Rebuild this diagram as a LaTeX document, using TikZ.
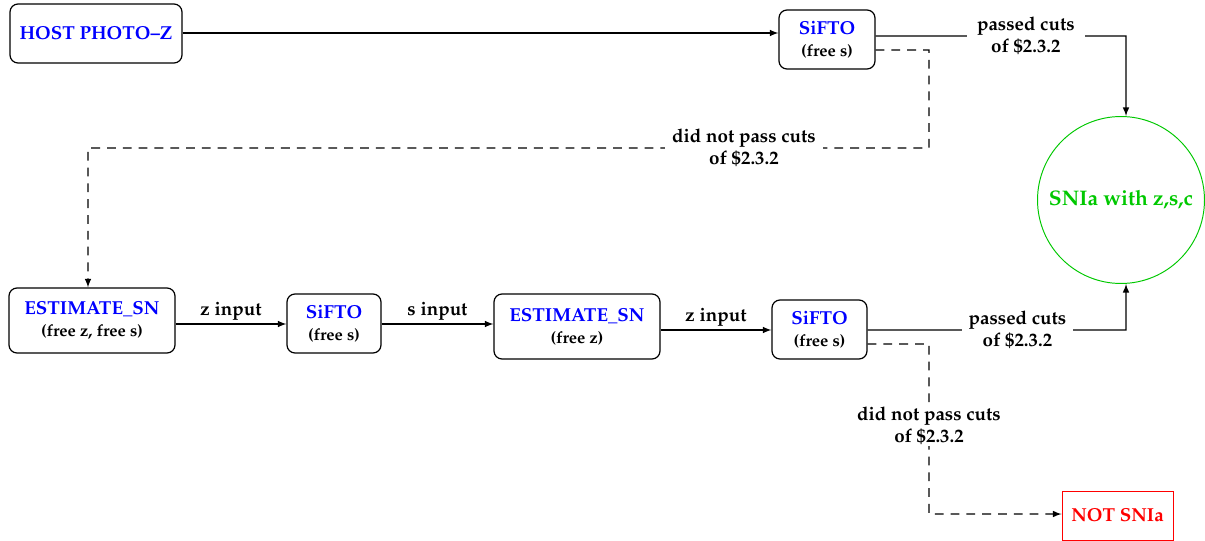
\documentclass[tikz,border=0pt]{standalone}
\usepackage[T1]{fontenc}
\usepackage{mathpazo}
\usepackage{tikz}
\usetikzlibrary{positioning}
\usetikzlibrary{shapes.geometric,arrows}
\definecolor{snblue}{RGB}{0,0,255}
\definecolor{sngreen}{RGB}{0,200,0}
\definecolor{snred}{RGB}{255,0,0}
\newcommand{\bname}[1]{{\fontsize{10.7}{12}\selectfont\bfseries\color{snblue}#1}}
\newcommand{\bnote}[1]{{\fontsize{9.4}{10}\selectfont\bfseries #1}}
\tikzstyle{prog} = [rectangle, rounded corners=0.16cm, draw=black, line width=0.7pt, align=center, inner sep=0pt]
\tikzstyle{lab} = [fill=white, align=center, font=\fontsize{10.7}{12.5}\selectfont\bfseries, inner sep=1pt]
\tikzstyle{arr} = [font=\fontsize{10.7}{12}\selectfont\bfseries, inner sep=2pt]
\tikzstyle{conn} = [line width=0.7pt, ->]
\tikzstyle{nopass} = [dash pattern=on 5pt off 4pt]

\begin{document}
\begin{tikzpicture}[x=0.02cm, y=-0.02cm, >=latex]
    \useasboundingbox (0,0) rectangle (1205,541);
    \node (host) [prog, minimum width=3.44cm, minimum height=1.18cm] at (96,33.5) {\bname{HOST PHOTO--Z}};
    \node (siftoA) [prog, minimum width=1.92cm, minimum height=1.18cm] at (827,39.5) {\bname{SiFTO}\\[0.5pt]\bnote{(free s)}};
    \node (estA) [prog, minimum width=3.32cm, minimum height=1.30cm] at (92,320.5) {\bname{ESTIMATE\_SN}\\[0.5pt]\bnote{(free z, free s)}};
    \node (siftoB) [prog, minimum width=1.88cm, minimum height=1.18cm] at (334,323.5) {\bname{SiFTO}\\[0.5pt]\bnote{(free s)}};
    \node (estB) [prog, minimum width=3.32cm, minimum height=1.30cm] at (577,326.5) {\bname{ESTIMATE\_SN}\\[0.5pt]\bnote{(free z)}};
    \node (siftoC) [prog, minimum width=1.90cm, minimum height=1.18cm] at (819.5,329.5) {\bname{SiFTO}\\[0.5pt]\bnote{(free s)}};
    \node (snia) [circle, draw=sngreen, line width=0.55pt, minimum size=3.34cm, text=sngreen, font=\fontsize{12}{14}\selectfont\bfseries] at (1121,200) {SNIa with z,s,c};
    \node (notsn) [rectangle, draw=snred, line width=0.55pt, minimum width=2.22cm, minimum height=0.98cm, text=snred, font=\fontsize{10.7}{12}\selectfont\bfseries] at (1117.5,515.5) {NOT SNIa};
    % top row
    \draw[conn] ([yshift=0.01cm]host.east) -- ([yshift=0.01cm]host.east -| siftoA.west);
    \draw[conn] ([yshift=0.07cm]siftoA.east) -- node[lab, pos=0.6, inner xsep=6pt] {passed cuts\\of \$2.3.2} (1126,36) -- ([xshift=0.1cm]snia.north);
    \draw[conn, nopass] ([yshift=-0.21cm]siftoA.east) -- (929,50) -- (929,148) -- node[lab, pos=0.22, inner xsep=4pt] {did not pass cuts\\of \$2.3.2} (88,148) -- ([xshift=-0.08cm]estA.north);
    % bottom row
    \draw[conn] ([yshift=-0.07cm]estA.east) -- node[arr, above] {z input} ([yshift=-0.07cm]estA.east -| siftoB.west);
    \draw[conn] ([yshift=-0.01cm]siftoB.east) -- node[arr, above] {s input} ([yshift=-0.01cm]siftoB.east -| estB.west);
    \draw[conn] ([yshift=-0.07cm]estB.east) -- node[arr, above] {z input} ([yshift=-0.07cm]estB.east -| siftoC.west);
    \draw[conn] ([yshift=-0.01cm]siftoC.east) -- node[lab, pos=0.58, inner xsep=4pt] {passed cuts\\of \$2.3.2} (1126,330) -- ([xshift=0.1cm]snia.south);
    \draw[conn, nopass] ([yshift=-0.29cm]siftoC.east) -- (929,344) -- node[lab, pos=0.48] {did not pass cuts\\of \$2.3.2} (929,514) -- ([yshift=0.03cm]notsn.west);
\end{tikzpicture}
\end{document}
